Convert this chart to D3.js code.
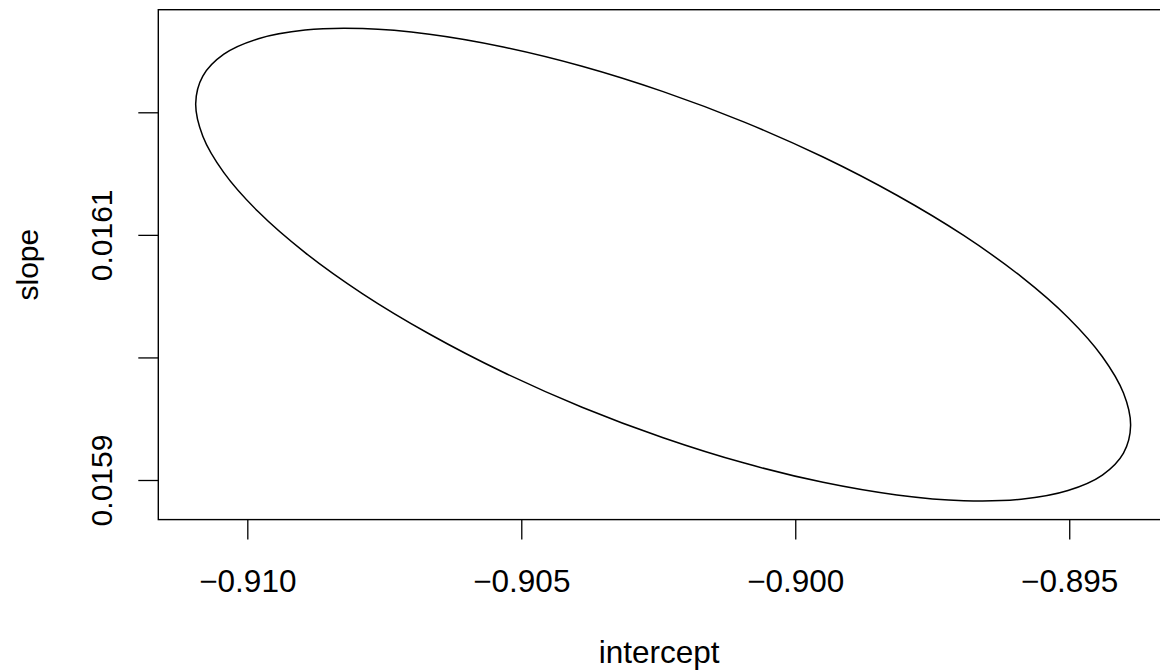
<!DOCTYPE html>
<html>
<head>
<meta charset="utf-8">
<script src="https://cdn.jsdelivr.net/npm/d3@7"></script>
<style>
  html, body { margin: 0; padding: 0; background: #fff; }
  svg { display: block; }
  text { font-family: "Liberation Sans", Arial, Helvetica, sans-serif; fill: #000; }
</style>
</head>
<body>
<svg id="chart" width="1160" height="671"></svg>
<script>
// Joint confidence region for (intercept, slope), traced as a closed outline
const ellipseIntercept = [
  -0.893880, -0.894010, -0.894395, -0.895023, -0.895876, -0.896927,
  -0.898146, -0.899493, -0.900930, -0.902411, -0.903892, -0.905329,
  -0.906677, -0.907895, -0.908946, -0.909799, -0.910428, -0.910812,
  -0.910942, -0.910812, -0.910428, -0.909799, -0.908946, -0.907895,
  -0.906677, -0.905329, -0.903892, -0.902411, -0.900930, -0.899493,
  -0.898146, -0.896927, -0.895876, -0.895023, -0.894395, -0.894010
];
const ellipseSlope = [
  0.0159444, 0.0159219, 0.0159040, 0.0158914, 0.0158843, 0.0158831,
  0.0158878, 0.0158981, 0.0159138, 0.0159345, 0.0159594, 0.0159879,
  0.0160191, 0.0160519, 0.0160855, 0.0161188, 0.0161508, 0.0161805,
  0.0162070, 0.0162295, 0.0162474, 0.0162600, 0.0162671, 0.0162683,
  0.0162637, 0.0162533, 0.0162376, 0.0162169, 0.0161920, 0.0161635,
  0.0161323, 0.0160995, 0.0160659, 0.0160326, 0.0160006, 0.0159709
];

const xTicks = [-0.910, -0.905, -0.900, -0.895];
const xTickLabels = ["\u22120.910", "\u22120.905", "\u22120.900", "\u22120.895"];
const yTicks = [0.0159, 0.0160, 0.0161, 0.0162];
const yTickLabels = ["0.0159", "", "0.0161", ""];

const xTitle = "intercept";
const yTitle = "slope";

// Plot region
const plotLeft = 158.3, plotRight = 1168, plotTop = 9.7, plotBottom = 519.6;
const fontSize = 30;
const xFontSize = 31.5;

const svg = d3.select("#chart");

// Axis limits: data range extended by 4% on each side
function padded(values) {
  const [lo, hi] = d3.extent(values);
  const d = (hi - lo) * 0.04;
  return [lo - d, hi + d];
}

const x = d3.scaleLinear().domain(padded(ellipseIntercept)).range([plotLeft, plotRight]);
const y = d3.scaleLinear().domain(padded(ellipseSlope)).range([plotBottom, plotTop]);

// Ellipse outline
const pts = ellipseIntercept.map((v, i) => [v, ellipseSlope[i]]);
const line = d3.line()
  .x(d => x(d[0]))
  .y(d => y(d[1]))
  .curve(d3.curveCatmullRomClosed.alpha(0.5));

svg.append("path")
  .attr("d", line(pts))
  .attr("fill", "none")
  .attr("stroke", "#000")
  .attr("stroke-width", 1.5);

// Frame around the plot region
svg.append("rect")
  .attr("x", plotLeft).attr("y", plotTop)
  .attr("width", plotRight - plotLeft).attr("height", plotBottom - plotTop)
  .attr("fill", "none").attr("stroke", "#000").attr("stroke-width", 1.4);

// Bottom axis
const xAxis = d3.axisBottom(x)
  .tickValues(xTicks)
  .tickFormat((d, i) => xTickLabels[i])
  .tickSize(20)
  .tickSizeOuter(0)
  .tickPadding(30);

const gx = svg.append("g")
  .attr("transform", `translate(0,${plotBottom})`)
  .call(xAxis);
gx.select(".domain").remove();
gx.selectAll(".tick line").attr("stroke", "#000").attr("stroke-width", 1.3);
gx.selectAll(".tick text")
  .attr("font-size", xFontSize)
  .attr("font-family", "Liberation Sans, Arial, sans-serif")
  .attr("fill", "#000");

// Left axis with labels running parallel to the axis
const yAxis = d3.axisLeft(y)
  .tickValues(yTicks)
  .tickFormat((d, i) => yTickLabels[i])
  .tickSize(20)
  .tickSizeOuter(0);

const gy = svg.append("g")
  .attr("transform", `translate(${plotLeft},0)`)
  .call(yAxis);
gy.select(".domain").remove();
gy.selectAll(".tick line").attr("stroke", "#000").attr("stroke-width", 1.3);
gy.selectAll(".tick text")
  .attr("transform", "rotate(-90)")
  .attr("x", 0)
  .attr("y", -(plotLeft - 111.7))
  .attr("dy", 0)
  .attr("text-anchor", "middle")
  .attr("font-size", fontSize)
  .attr("font-family", "Liberation Sans, Arial, sans-serif")
  .attr("fill", "#000");

// Axis titles
svg.append("text")
  .attr("x", (plotLeft + plotRight) / 2 - 4)
  .attr("y", 663)
  .attr("text-anchor", "middle")
  .attr("font-size", xFontSize)
  .text(xTitle);

svg.append("text")
  .attr("transform", `translate(38,${(plotTop + plotBottom) / 2}) rotate(-90)`)
  .attr("text-anchor", "middle")
  .attr("font-size", fontSize)
  .text(yTitle);
</script>
</body>
</html>
